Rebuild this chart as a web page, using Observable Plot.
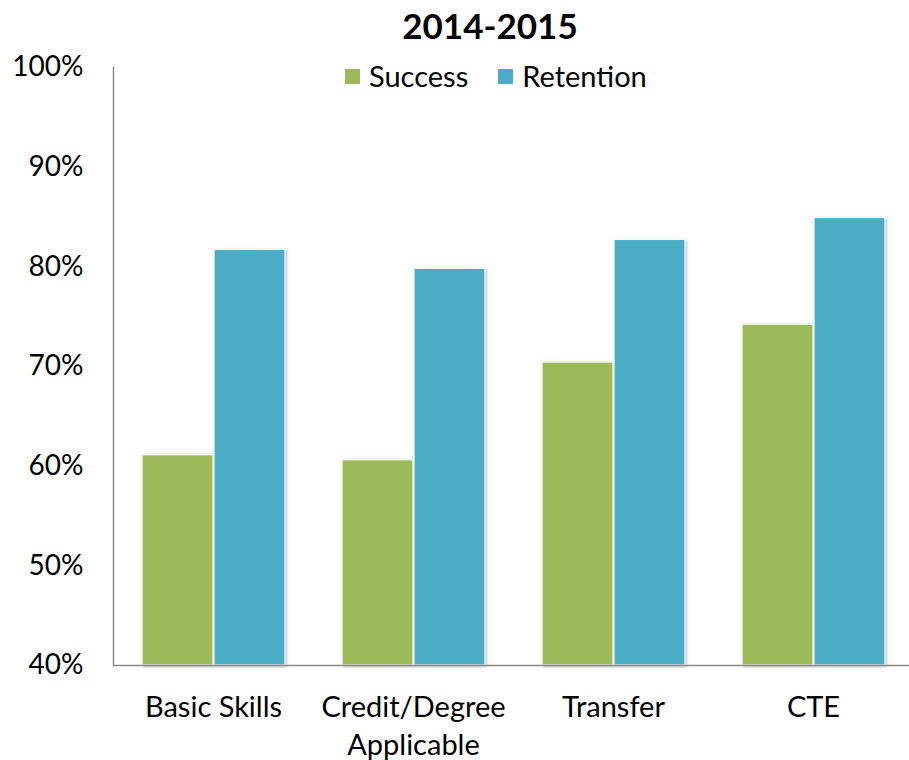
<!DOCTYPE html>
<html>
<head>
<meta charset="utf-8">
<script src="https://cdn.jsdelivr.net/npm/d3@7"></script>
<script src="https://cdn.jsdelivr.net/npm/@observablehq/plot@0.6"></script>
<style>
  html, body { margin: 0; padding: 0; background: #fff; }
  #wrap { position: relative; width: 909px; height: 760px; font-family: Lato, sans-serif; color: #000; }
  #title { position: absolute; left: 0; width: 980px; top: 4px; text-align: center; font-size: 35px; font-weight: bold; line-height: 42px; }
  #legend { position: absolute; left: 345px; top: 58px; font-size: 29px; line-height: 36px; display: flex; align-items: center; }
  .sw { display: inline-block; width: 15px; height: 15px; margin-right: 9px; }
  .item { display: flex; align-items: center; margin-right: 30px; }
</style>
</head>
<body>
<div id="wrap">
  <div id="chart"></div>
  <div id="title"></div>
  <div id="legend"></div>
</div>
<script>
const title = "2014-2015";
const categories = ["Basic Skills", "Credit/Degree Applicable", "Transfer", "CTE"];
const tickLabels = ["Basic Skills", "Credit/Degree\nApplicable", "Transfer", "CTE"];
const series = ["Success", "Retention"];
const success = [61.1, 60.6, 70.4, 74.2];
const retention = [81.7, 79.8, 82.7, 84.9];
const yTicks = [40, 50, 60, 70, 80, 90, 100];
const colors = ["#9BBB59", "#4BACC6"];

const data = categories.flatMap((c, i) => [
  {category: c, series: series[0], value: success[i]},
  {category: c, series: series[1], value: retention[i]}
]);

const plot = Plot.plot({
  width: 909,
  height: 760,
  marginLeft: 113,
  marginRight: 0,
  marginTop: 67,
  marginBottom: 95,
  style: {fontFamily: "Lato, sans-serif", fontSize: "28px", color: "#000", background: "transparent", overflow: "visible"},
  fx: {domain: categories, range: [111, 914], padding: 0, label: null},
  x: {domain: series, axis: null, paddingInner: 0.014, paddingOuter: 0.385},
  y: {domain: [40, 100], ticks: yTicks, tickFormat: d => d + "%", label: null, tickSize: 0, tickPadding: 30, line: true},
  color: {domain: series, range: colors},
  marks: [
    Plot.barY(data, {fx: "category", x: "series", y1: 40, y2: "value", fill: "series", stroke: "white", strokeWidth: 1.2}),
    Plot.ruleY([40], {stroke: "#898989", strokeWidth: 1.5}),
    Plot.axisFx({anchor: "bottom", tickSize: 0, tickPadding: 25, label: null, lineHeight: 1.3, fontSize: 29,
      tickFormat: d => tickLabels[categories.indexOf(d)]})
  ]
});
document.getElementById("chart").appendChild(plot);

// subtle bar shadow, as in the reference
d3.select(plot).selectAll("g[aria-label='bar']").style("filter", "drop-shadow(1.5px 1px 1.5px rgba(0,0,0,0.3))");
// grey axis line
d3.select(plot).selectAll("[aria-label='frame'], [aria-label='frame'] *").attr("stroke", "#898989").attr("stroke-width", 1.5);

document.getElementById("title").textContent = title;
const legend = d3.select("#legend");
series.forEach((s, i) => {
  const it = legend.append("div").attr("class", "item");
  it.append("span").attr("class", "sw").style("background", colors[i]);
  it.append("span").text(s);
});
</script>
</body>
</html>
